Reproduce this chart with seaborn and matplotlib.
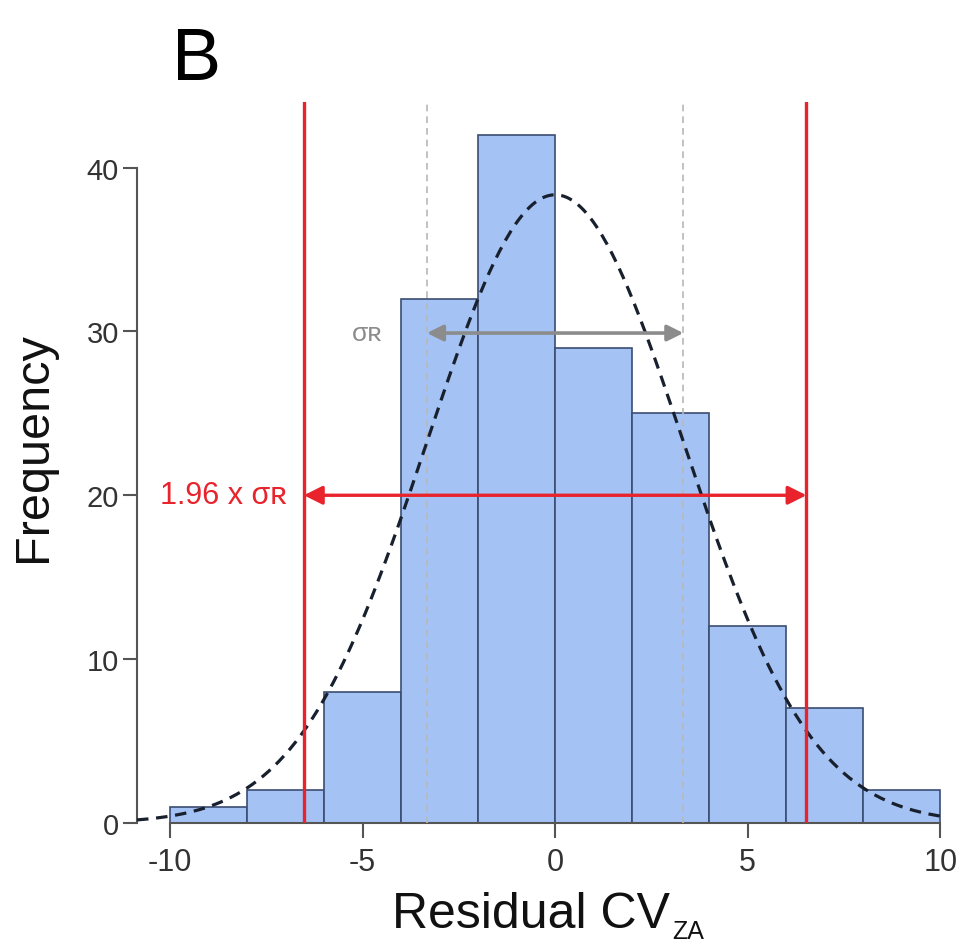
import numpy as np
import pandas as pd
import seaborn as sns
import matplotlib.pyplot as plt

# histogram bins and counts
bin_edges = [-10, -8, -6, -4, -2, 0, 2, 4, 6, 8, 10]
bin_counts = [1, 2, 8, 32, 42, 29, 25, 12, 7, 2]

# fitted normal: mean and residual SD (sigma_R)
fit_mean = 0.0
sigma_r = 3.33
limit_factor = 1.96

x_ticks = [-10, -5, 0, 5, 10]
y_ticks = [0, 10, 20, 30, 40]

sns.set_theme(style="ticks")
plt.rcParams['font.family'] = ['Liberation Sans', 'DejaVu Sans']

bar_fill = '#a4c2f4'
bar_edge = '#3b4d72'
red = '#e8232b'
grey = '#8c8c8c'
axis_col = '#555555'

W, H = 962, 945
centers = [(a + b) / 2 for a, b in zip(bin_edges[:-1], bin_edges[1:])]
df = pd.DataFrame({'resid': centers, 'count': bin_counts})

fig = plt.figure(figsize=(W / 100, H / 100), dpi=100)
ax = fig.add_axes([137 / W, 1 - 824 / H, (946 - 137) / W, (824 - 103) / H])

sns.histplot(data=df, x='resid', weights='count', bins=bin_edges, ax=ax,
             color=bar_fill, edgecolor=bar_edge, linewidth=1.2, alpha=1, zorder=2)

# normal curve scaled to counts
n_total = sum(bin_counts)
bw = bin_edges[1] - bin_edges[0]
xs = np.linspace(-10.86, 10, 300)
ys = n_total * bw * np.exp(-0.5 * ((xs - fit_mean) / sigma_r) ** 2) / (np.sqrt(2 * np.pi) * sigma_r)
sns.lineplot(x=xs, y=ys, ax=ax, color='#18202e', lw=2.3, zorder=5)
ax.lines[-1].set_dashes((3.6, 2.4))
ax.lines[-1].set_clip_on(False)

# sigma lines
for s in (-sigma_r, sigma_r):
    ax.axvline(fit_mean + s, color='#b8b8b8', lw=1.2, dashes=(4, 3), zorder=4)
lim = limit_factor * sigma_r
for s in (-lim, lim):
    ax.axvline(fit_mean + s, color=red, lw=2.4, zorder=6)

ax.annotate('', xy=(fit_mean - sigma_r, 29.9), xytext=(fit_mean + sigma_r, 29.9),
            arrowprops=dict(arrowstyle='<|-|>', color=grey, lw=2.6,
                            mutation_scale=24, shrinkA=0, shrinkB=0), zorder=7)
ax.annotate('', xy=(fit_mean - lim, 20), xytext=(fit_mean + lim, 20),
            arrowprops=dict(arrowstyle='<|-|>', color=red, lw=2.4,
                            mutation_scale=28, shrinkA=0, shrinkB=0), zorder=7)
ax.text(-4.49, 29.9, 'σʀ', color=grey, fontsize=19, ha='right', va='center')
ax.text(-6.96, 20, '1.96 x σʀ', color=red, fontsize=22, ha='right', va='center')

ax.set_xlim(-10.86, 10.15)
ax.set_ylim(0, 44)
ax.set_xticks(x_ticks)
ax.set_xticklabels([str(t) for t in x_ticks])
ax.set_yticks(y_ticks)
ax.set_yticklabels([str(t) for t in y_ticks])
ax.set_xlabel('')
ax.set_ylabel('')
sns.despine(ax=ax)
ax.spines['left'].set_bounds(0, 40)
ax.spines['bottom'].set_bounds(-10, 10)
for sp in ('left', 'bottom'):
    ax.spines[sp].set_color(axis_col)
    ax.spines[sp].set_linewidth(1.5)
ax.tick_params(axis='x', length=11, width=1.5, color=axis_col, pad=6,
               labelsize=22, labelcolor='#333333')
ax.tick_params(axis='y', length=10, width=1.5, color=axis_col, pad=3,
               labelsize=21, labelcolor='#333333')

fig.text(34 / W, 1 - 447 / H, 'Frequency', rotation=90, fontsize=35,
         ha='center', va='center', color='#111111')
xl = fig.text(392 / W, 1 - 928 / H, 'Residual CV', fontsize=36,
              ha='left', va='baseline', color='#111111')
fig.canvas.draw()
bb = xl.get_window_extent()
fig.text((bb.x1 + 2) / W, 1 - 939 / H, 'ZA', fontsize=18,
         ha='left', va='baseline', color='#111111')
fig.text(172 / W, 1 - 80 / H, 'B', fontsize=53, ha='left', va='baseline',
         color='#000000')

fig.savefig('out.png', dpi=100)
